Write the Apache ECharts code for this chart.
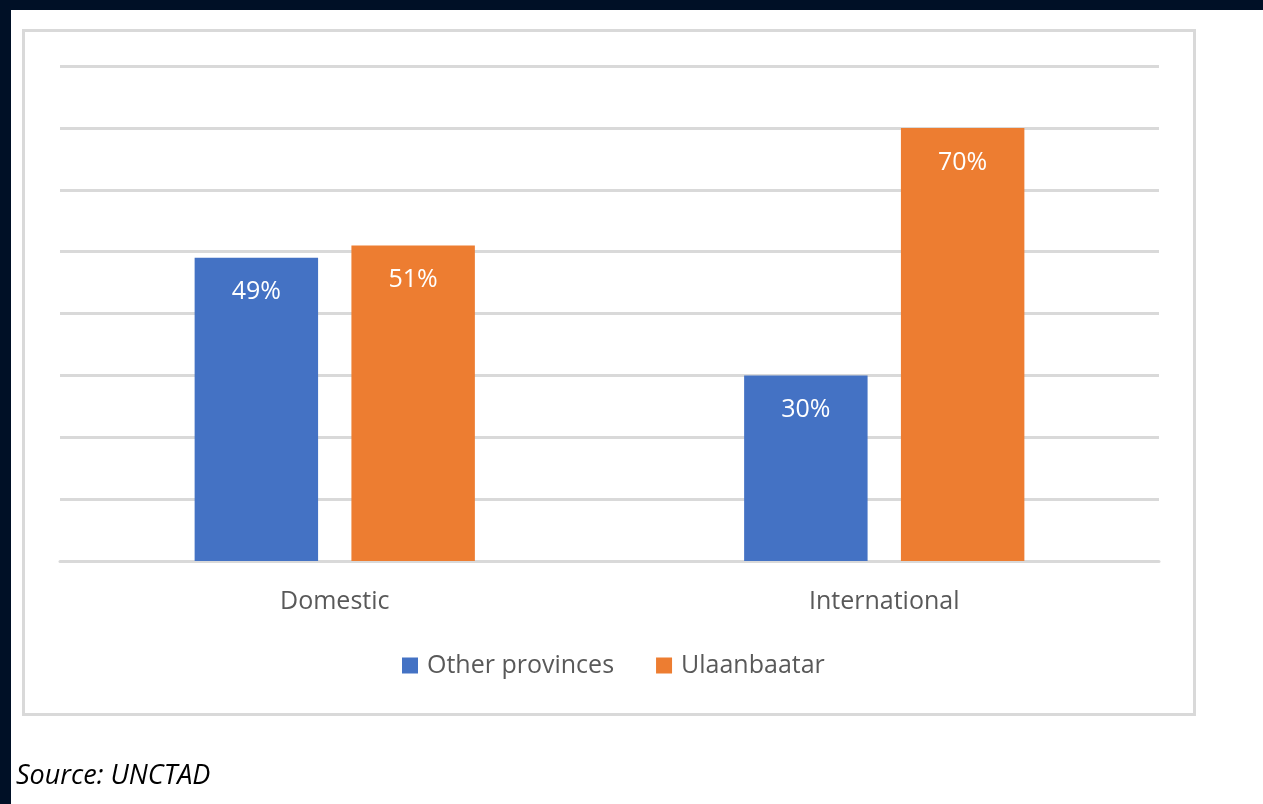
<!DOCTYPE html>
<html>
<head>
<meta charset="utf-8">
<script src="https://cdn.jsdelivr.net/npm/echarts@6/dist/echarts.min.js"></script>
<style>
  html, body { margin: 0; padding: 0; background: #fff; }
  #page { position: relative; width: 1263px; height: 804px; overflow: hidden; background: #fff; }
  #topband { position: absolute; left: 0; top: 0; width: 1263px; height: 10px; background: #001026; }
  #leftband { position: absolute; left: 0; top: 0; width: 11px; height: 804px; background: #001026; }
  #frame { position: absolute; left: 22px; top: 29px; width: 1168px; height: 681px; border: 3px solid #d9d9d9; }
  #main { position: absolute; left: 0; top: 0; width: 1263px; height: 804px; }
  #source { position: absolute; left: 16px; top: 755px; font: italic 27px "Open Sans", sans-serif; color: #000; }
</style>
</head>
<body>
<div id="page">
  <div id="topband"></div>
  <div id="leftband"></div>
  <div id="frame"></div>
  <div id="main"></div>
  <div id="source">Source: UNCTAD</div>
</div>
<script>
// 数据
const categories = ['Domestic', 'International'];
const otherProvinces = [49, 30];
const ulaanbaatar = [51, 70];

const chart = echarts.init(document.getElementById('main'), null, { renderer: 'canvas' });

const labelStyle = {
  show: true,
  position: 'insideTop',
  distance: 22,
  color: '#fff',
  fontSize: 25,
  fontFamily: 'Open Sans',
  formatter: p => p.value + '%'
};

chart.setOption({
  backgroundColor: 'transparent',
  animation: false,
  grid: { left: 60, right: 104, top: 66, bottom: 243 },
  legend: {
    bottom: 121,
    left: 397,
    itemWidth: 16,
    itemHeight: 16,
    itemGap: 42,
    icon: 'rect',
    textStyle: { color: '#595959', fontSize: 25, fontFamily: 'Open Sans', padding: [0, 0, 0, 4] },
    data: ['Other provinces', 'Ulaanbaatar']
  },
  xAxis: {
    type: 'category',
    data: categories,
    axisTick: { show: false },
    axisLine: { show: true, lineStyle: { color: '#d9d9d9', width: 3 } },
    axisLabel: { color: '#595959', fontSize: 25, fontFamily: 'Open Sans', margin: 28 }
  },
  yAxis: {
    type: 'value',
    min: 0,
    max: 80,
    interval: 10,
    axisLabel: { show: false },
    axisLine: { show: false },
    axisTick: { show: false },
    splitLine: { lineStyle: { color: '#d9d9d9', width: 3 } }
  },
  series: [
    {
      name: 'Other provinces',
      type: 'bar',
      data: otherProvinces,
      itemStyle: { color: '#4472c4' },
      barGap: '27%',
      barCategoryGap: '49%',
      label: labelStyle
    },
    {
      name: 'Ulaanbaatar',
      type: 'bar',
      data: ulaanbaatar,
      itemStyle: { color: '#ed7d31' },
      label: labelStyle
    }
  ]
});
</script>
</body>
</html>
